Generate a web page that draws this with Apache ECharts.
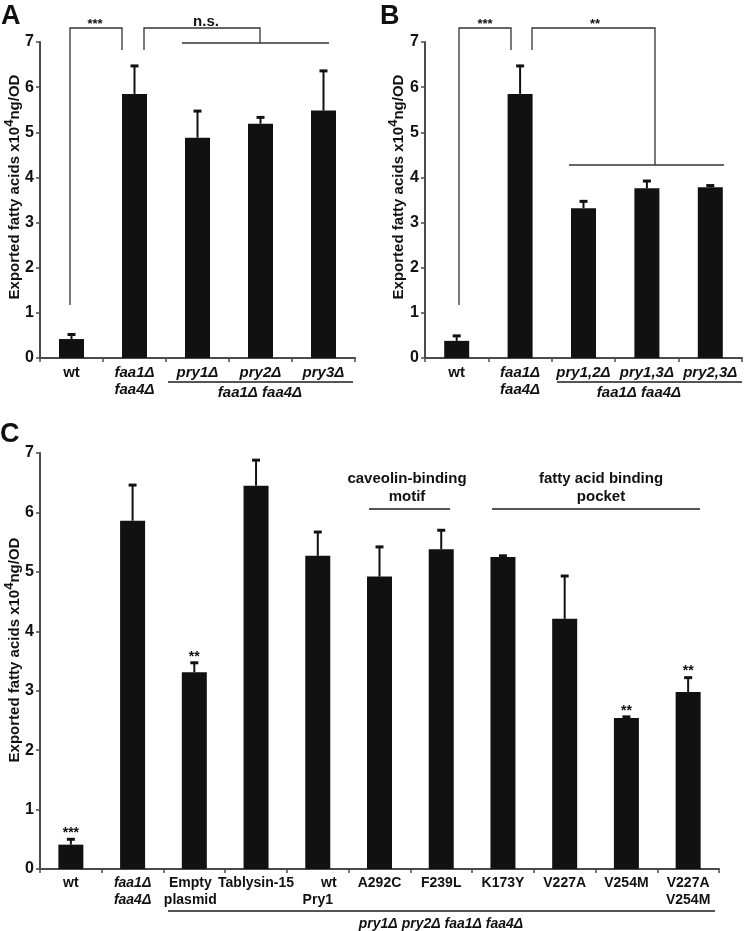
<!DOCTYPE html>
<html>
<head>
<meta charset="utf-8">
<script src="https://cdn.jsdelivr.net/npm/echarts@6/dist/echarts.min.js"></script>
<style>html,body{margin:0;padding:0;background:#fff}#c{width:745px;height:931px}</style>
</head>
<body>
<div id="c"></div>
<script>
// ---------- DATA ----------
const catsA = ['wt', 'faa1Δ\nfaa4Δ', 'pry1Δ', 'pry2Δ', 'pry3Δ'];
const meanA = [0.42, 5.85, 4.88, 5.19, 5.48];
const sdA   = [0.10, 0.62, 0.59, 0.14, 0.88];

const catsB = ['wt', 'faa1Δ\nfaa4Δ', 'pry1,2Δ', 'pry1,3Δ', 'pry2,3Δ'];
const meanB = [0.38, 5.85, 3.32, 3.76, 3.78];
const sdB   = [0.11, 0.62, 0.15, 0.16, 0.04];

const catsC = ['wt', 'faa1Δ\nfaa4Δ', 'Empty\nplasmid', 'Tablysin-15', 'wt\nPry1', 'A292C', 'F239L', 'K173Y', 'V227A', 'V254M', 'V227A\nV254M'];
const meanC = [0.41, 5.86, 3.31, 6.45, 5.27, 4.92, 5.38, 5.25, 4.21, 2.54, 2.98];
const sdC   = [0.09, 0.60, 0.16, 0.43, 0.40, 0.50, 0.32, 0.02, 0.72, 0.02, 0.24];
const sigC  = ['***', '', '**', '', '', '', '', '', '', '**', '**'];

const yTicks = [0, 1, 2, 3, 4, 5, 6, 7];
const yTitleParts = ['Exported fatty acids x10', '4', 'ng/OD'];

// ---------- STYLE ----------
const FONT = '"Liberation Sans", Arial, Helvetica, sans-serif';
const AX = '#4a4a4a';
const BAR = '#111111';

const chart = echarts.init(document.getElementById('c'), null, {renderer: 'canvas'});

function labelFmt(v) {
  return v.split('\n').map(function (line) {
    if (line === 'wt' && v.indexOf('Pry1') >= 0) return '{wp|' + line + '}';
    if (line === 'Empty' || line === 'plasmid') return '{ep|' + line + '}';
    return (line.indexOf('Δ') >= 0 ? '{i|' : '{b|') + line + '}';
  }).join('\n');
}

function xAxisFor(idx, cats, size) {
  const base = {fontFamily: FONT, fontWeight: 'bold', fontSize: size, lineHeight: 17, color: '#111'};
  return {
    type: 'category', gridIndex: idx, data: cats,
    axisLine: {show: true, lineStyle: {color: AX, width: 2}},
    axisTick: {show: true, length: 4, lineStyle: {color: AX, width: 1.5}},
    axisLabel: {
      interval: 0, margin: 6, formatter: labelFmt, color: '#111',
      rich: {
        b: base,
        i: Object.assign({}, base, {fontStyle: 'italic'}),
        wp: Object.assign({}, base, {padding: [0, 0, 0, 22]}),
        ep: Object.assign({}, base, {padding: [0, 8, 0, 0]})
      }
    }
  };
}

function yAxisFor(idx) {
  return {
    type: 'value', gridIndex: idx, min: yTicks[0], max: yTicks[yTicks.length - 1], interval: 1,
    splitLine: {show: false},
    axisLine: {show: true, lineStyle: {color: AX, width: 2}},
    axisTick: {show: true, length: 4, lineStyle: {color: AX, width: 1.5}},
    axisLabel: {margin: 6, fontFamily: FONT, fontWeight: 'bold', fontSize: 16, color: '#111'}
  };
}

function errSeries(idx, means, sds, sigs) {
  return {
    type: 'custom', xAxisIndex: idx, yAxisIndex: idx, z: 5,
    data: means.map(function (m, i) { return [i, m, sds[i]]; }),
    renderItem: function (params, api) {
      const i = api.value(0), m = api.value(1), s = api.value(2);
      const p0 = api.coord([i, m]);
      const p1 = api.coord([i, m + s]);
      const children = [
        {type: 'line', shape: {x1: p0[0], y1: p0[1], x2: p1[0], y2: p1[1]}, style: {stroke: BAR, lineWidth: 2}},
        {type: 'line', shape: {x1: p1[0] - 4, y1: p1[1], x2: p1[0] + 4, y2: p1[1]}, style: {stroke: BAR, lineWidth: 3}}
      ];
      const sig = sigs ? sigs[params.dataIndex] : '';
      if (sig) {
        children.push({type: 'text', style: {x: p1[0], y: p1[1] - 6, text: sig, align: 'center', verticalAlign: 'middle',
          font: 'bold 14px ' + FONT, fill: '#111'}});
      }
      return {type: 'group', children: children};
    }
  };
}

function barSeries(idx, means) {
  return {type: 'bar', xAxisIndex: idx, yAxisIndex: idx, data: means, barWidth: 25,
    itemStyle: {color: BAR}, silent: true};
}

// ---------- annotations (decoration only) ----------
const LN = {stroke: '#333', lineWidth: 1.3, fill: null};
const GL = {stroke: '#555', lineWidth: 2};
function poly(pts, st) { return {type: 'polyline', shape: {points: pts}, style: Object.assign({}, st || LN)}; }
function seg(x1, y1, x2, y2, st) { return {type: 'line', shape: {x1: x1, y1: y1, x2: x2, y2: y2}, style: Object.assign({}, st || LN)}; }
function txt(x, y, t, font, extra) {
  return {type: 'text', style: Object.assign({x: x, y: y, text: t, align: 'center', verticalAlign: 'middle', font: font, fill: '#111'}, extra || {})};
}
const boldF = function (s) { return 'bold ' + s + 'px ' + FONT; };
const italF = function (s) { return 'italic bold ' + s + 'px ' + FONT; };

function yTitle(cx, cy) {
  return {
    type: 'text', x: cx, y: cy, rotation: Math.PI / 2,
    style: {
      text: '{m|' + yTitleParts[0] + '}{s|' + yTitleParts[1] + '}{m|' + yTitleParts[2] + '}',
      align: 'center', verticalAlign: 'middle',
      rich: {
        m: {fontFamily: FONT, fontWeight: 'bold', fontSize: 15, fill: '#111', lineHeight: 22},
        s: {fontFamily: FONT, fontWeight: 'bold', fontSize: 13, fill: '#111', lineHeight: 22, padding: [0, 0, 12, 0]}
      }
    }
  };
}

const graphics = [
  // panel letters
  txt(1, 3, 'A', boldF(27), {align: 'left', verticalAlign: 'top'}),
  txt(380, 3, 'B', boldF(27), {align: 'left', verticalAlign: 'top'}),
  txt(0, 421, 'C', boldF(27), {align: 'left', verticalAlign: 'top'}),
  // y titles
  yTitle(15, 187), yTitle(399, 187), yTitle(15, 650),
  // A brackets
  poly([[70, 305], [70, 28], [122, 28], [122, 50]]),
  poly([[144, 50], [144, 28], [260, 28], [260, 43]]),
  seg(182, 43, 329, 43),
  txt(95, 24, '***', boldF(13)),
  txt(206, 22, 'n.s.', boldF(15)),
  // B brackets
  poly([[459, 305], [459, 28], [511, 28], [511, 50]]),
  poly([[532, 50], [532, 28], [655, 28], [655, 165]]),
  seg(569, 165, 724, 165),
  txt(485, 24, '***', boldF(13)),
  txt(595, 24, '**', boldF(13)),
  // A/B group labels
  seg(168, 382, 353, 382, GL),
  txt(260, 393, 'faa1Δ faa4Δ', italF(15)),
  seg(557, 382, 742, 382, GL),
  txt(639, 393, 'faa1Δ faa4Δ', italF(15)),
  // C group labels
  txt(407, 479, 'caveolin-binding', boldF(15)),
  txt(407, 497, 'motif', boldF(15)),
  seg(369, 509, 450, 509, GL),
  txt(601, 479, 'fatty acid binding', boldF(15)),
  txt(601, 497, 'pocket', boldF(15)),
  seg(492, 509, 700, 509, GL),
  seg(168, 911, 715, 911, GL),
  txt(441, 924, 'pry1Δ pry2Δ faa1Δ faa4Δ', italF(14))
];

chart.setOption({
  animation: false,
  backgroundColor: '#fff',
  grid: [
    {left: 40, right: 390, top: 42, bottom: 573},
    {left: 425, right: 3, top: 42, bottom: 573},
    {left: 40, right: 26, top: 453, bottom: 62}
  ],
  xAxis: [xAxisFor(0, catsA, 15), xAxisFor(1, catsB, 15), xAxisFor(2, catsC, 14)],
  yAxis: [yAxisFor(0), yAxisFor(1), yAxisFor(2)],
  series: [
    barSeries(0, meanA), errSeries(0, meanA, sdA, null),
    barSeries(1, meanB), errSeries(1, meanB, sdB, null),
    barSeries(2, meanC), errSeries(2, meanC, sdC, sigC)
  ],
  graphic: graphics
});
</script>
</body>
</html>
